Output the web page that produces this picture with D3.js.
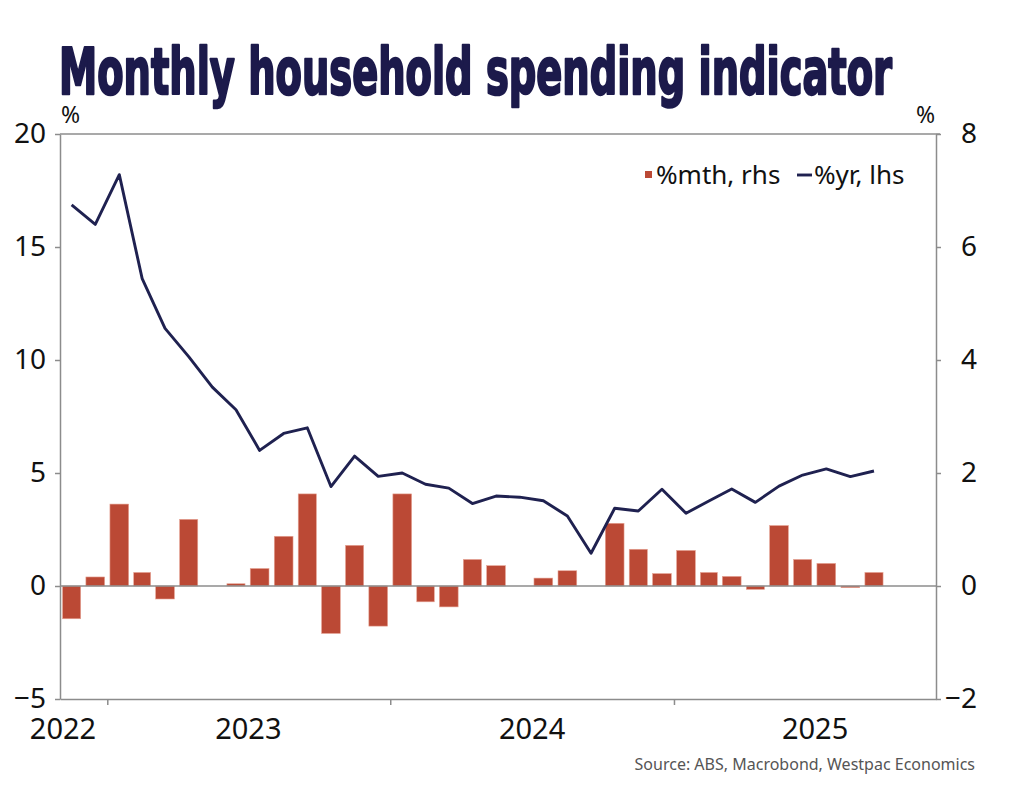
<!DOCTYPE html>
<html>
<head>
<meta charset="utf-8">
<script src="https://cdn.jsdelivr.net/npm/d3@7"></script>
<style>
  body { margin: 0; background: #fff; }
  svg { display: block; }
</style>
</head>
<body>
<div id="chart"></div>
<script>
// months shown, Nov 2022 .. Sep 2025
var months = ["2022-11","2022-12",
  "2023-01","2023-02","2023-03","2023-04","2023-05","2023-06","2023-07","2023-08","2023-09","2023-10","2023-11","2023-12",
  "2024-01","2024-02","2024-03","2024-04","2024-05","2024-06","2024-07","2024-08","2024-09","2024-10","2024-11","2024-12",
  "2025-01","2025-02","2025-03","2025-04","2025-05","2025-06","2025-07","2025-08","2025-09"];

// %mth, right hand scale (bars)
var pctMonth = [-0.58, 0.16,
  1.45, 0.24, -0.23, 1.18, 0.00, 0.04, 0.31, 0.88, 1.63, -0.84, 0.72, -0.71,
  1.63, -0.28, -0.37, 0.47, 0.36, 0.00, 0.14, 0.27, 0.00, 1.11, 0.65, 0.22,
  0.63, 0.24, 0.17, -0.06, 1.07, 0.47, 0.40, -0.03, 0.24];

// %yr, left hand scale (line)
var pctYear = [16.86, 16.0,
  18.2, 13.6, 11.4, 10.15, 8.8, 7.8, 6.0, 6.75, 7.0, 4.4, 5.75, 4.85,
  5.0, 4.5, 4.33, 3.65, 3.98, 3.93, 3.77, 3.10, 1.45, 3.44, 3.32, 4.28,
  3.22, 3.76, 4.29, 3.70, 4.42, 4.91, 5.18, 4.84, 5.09];

var leftTicks = [-5, 0, 5, 10, 15, 20];
var rightTicks = [-2, 0, 2, 4, 6, 8];
var yearLabels = ["2022", "2023", "2024", "2025"];

var W = 1024, H = 791;
var plotL = 60, plotR = 936, plotT = 134, plotB = 699;

var barColor = "#bb4935";
var lineColor = "#1f2150";
var axisColor = "#8c8c8c";
var tickFont = "'Noto Sans', 'Open Sans', sans-serif";

var parse = d3.timeParse("%Y-%m");
var data = months.map(function (m, i) {
    var d0 = parse(m);
    var d1 = d3.timeMonth.offset(d0, 1);
    return { start: d0, end: d1, mid: new Date((+d0 + +d1) / 2), mth: pctMonth[i], yr: pctYear[i] };
});

var x = d3.scaleTime()
    .domain([new Date(2022, 10, 1), new Date(2025, 11, 5)])
    .range([plotL, plotR]);

var yL = d3.scaleLinear().domain([-5, 20]).range([plotB, plotT]);
var yR = d3.scaleLinear().domain([-2, 8]).range([plotB, plotT]);

var svg = d3.select("#chart").append("svg")
    .attr("width", W)
    .attr("height", H);

// title
svg.append("text")
    .attr("x", 59)
    .attr("y", 94)
    .attr("textLength", 833)
    .attr("lengthAdjust", "spacingAndGlyphs")
    .style("font-family", "'DejaVu Sans Condensed', 'DejaVu Sans', sans-serif")
    .style("font-weight", "bold")
    .style("font-size", "64px")
    .style("fill", "#1c1a4b")
    .style("stroke", "#1c1a4b")
    .style("stroke-width", 2.4)
    .style("stroke-linejoin", "round")
    .text("Monthly household spending indicator");

// bars
var bw = function (d) { return (x(d.end) - x(d.start)) * 0.78; };
svg.append("g").selectAll("rect")
    .data(data)
    .enter().append("rect")
    .attr("x", function (d) { return x(d.mid) - bw(d) / 2; })
    .attr("width", bw)
    .attr("y", function (d) { return Math.min(yR(d.mth), yR(0)); })
    .attr("height", function (d) { return Math.abs(yR(d.mth) - yR(0)); })
    .style("fill", barColor)
    .style("stroke", "#e7a596")
    .style("stroke-width", 0.6);

// zero line
svg.append("line")
    .attr("x1", plotL).attr("x2", plotR)
    .attr("y1", yL(0)).attr("y2", yL(0))
    .style("stroke", axisColor)
    .style("stroke-width", 1.5);

// %yr line
var line = d3.line()
    .x(function (d) { return x(d.mid); })
    .y(function (d) { return yL(d.yr); });

svg.append("path")
    .datum(data)
    .attr("d", line)
    .style("fill", "none")
    .style("stroke", lineColor)
    .style("stroke-width", 2.9)
    .style("stroke-linejoin", "round");

// axes
var leftAxis = d3.axisLeft(yL).tickValues(leftTicks).tickSizeInner(5).tickSizeOuter(0).tickPadding(9);
var rightAxis = d3.axisRight(yR).tickValues(rightTicks).tickSizeInner(5).tickSizeOuter(0).tickPadding(36);
var yearStarts = [new Date(2023, 0, 1), new Date(2024, 0, 1), new Date(2025, 0, 1)];
var bottomAxis = d3.axisBottom(x).tickValues(yearStarts).tickSizeInner(6).tickSizeOuter(0).tickFormat("");

var gl = svg.append("g").attr("transform", "translate(" + plotL + ",0)").call(leftAxis);
var gr = svg.append("g").attr("transform", "translate(" + plotR + ",0)").call(rightAxis);
var gb = svg.append("g").attr("transform", "translate(0," + plotB + ")").call(bottomAxis);

[gl, gr, gb].forEach(function (g) {
    g.select(".domain").style("stroke", axisColor).style("stroke-width", 1.5);
    g.selectAll(".tick line").style("stroke", axisColor).style("stroke-width", 1.5);
    g.selectAll("text")
        .style("font-family", tickFont)
        .style("font-size", "28px")
        .style("fill", "#111");
});
gr.selectAll("text").attr("text-anchor", "end");

// top frame line
svg.append("line")
    .attr("x1", plotL).attr("x2", plotR + 4)
    .attr("y1", plotT).attr("y2", plotT)
    .style("stroke", axisColor)
    .style("stroke-width", 1.5);

// year labels, centred in each year's span (clamped to the plot)
svg.append("g").selectAll("text")
    .data(yearLabels)
    .enter().append("text")
    .attr("x", function (yr) {
        var c = x(new Date(+yr, 6, 2));
        return c < plotL ? plotL + 3 : c;
    })
    .attr("y", 739)
    .attr("text-anchor", "middle")
    .style("font-family", tickFont)
    .style("font-size", "29px")
    .style("fill", "#111")
    .text(function (d) { return d; });

// unit labels
svg.append("text")
    .attr("x", 61).attr("y", 123)
    .style("font-family", tickFont).style("font-size", "23px").style("fill", "#111")
    .text("%");
svg.append("text")
    .attr("x", 935).attr("y", 123)
    .attr("text-anchor", "end")
    .style("font-family", tickFont).style("font-size", "23px").style("fill", "#111")
    .text("%");

// legend
var lg = svg.append("g").style("font-family", "'Noto Sans', 'Open Sans', sans-serif").style("font-size", "26px");
lg.append("rect").attr("x", 645).attr("y", 171).attr("width", 7).attr("height", 7).style("fill", barColor);
lg.append("text").attr("x", 656).attr("y", 184).style("fill", "#111").text("%mth, rhs");
lg.append("line").attr("x1", 797).attr("x2", 812).attr("y1", 175).attr("y2", 175)
    .style("stroke", lineColor).style("stroke-width", 2.9);
lg.append("text").attr("x", 814).attr("y", 184).style("fill", "#111").text("%yr, lhs");

// source
svg.append("text")
    .attr("x", 975).attr("y", 770)
    .attr("text-anchor", "end")
    .style("font-family", "'Noto Sans', 'Open Sans', sans-serif")
    .style("font-size", "16px")
    .style("fill", "#555")
    .text("Source: ABS, Macrobond, Westpac Economics");
</script>
</body>
</html>
